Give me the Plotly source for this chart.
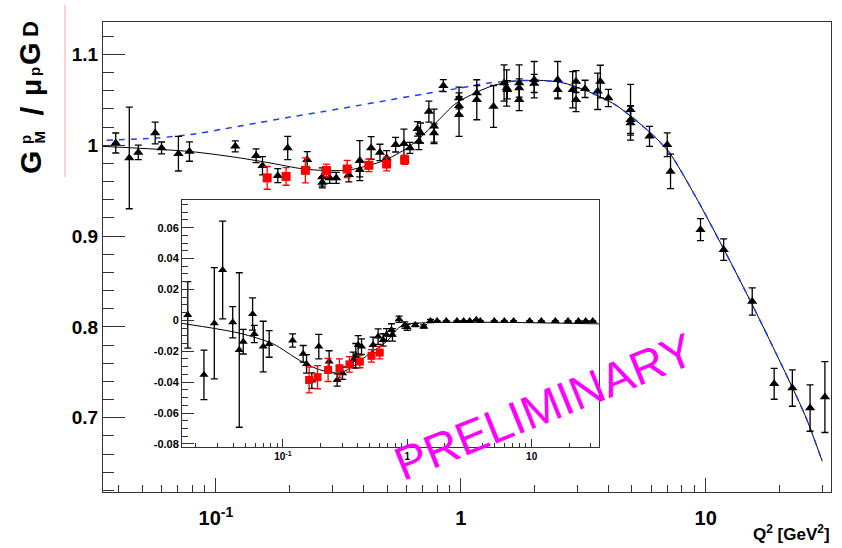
import plotly.graph_objects as go

# ---------------- main panel data ----------------
q2_black = [0.039, 0.0443, 0.0482, 0.0565, 0.060, 0.0703, 0.078, 0.12, 0.146, 0.155,
            0.179, 0.1965, 0.236, 0.272, 0.272, 0.2915, 0.31, 0.349, 0.387, 0.387,
            0.4305, 0.4677, 0.498, 0.542, 0.586, 0.62, 0.674, 0.685, 0.666, 0.741,
            0.778, 0.778, 0.849, 0.984, 0.984, 0.984, 1.163, 1.163, 1.361, 1.503,
            1.54, 1.55, 1.733, 1.733, 1.733, 1.995, 1.995, 2.488, 2.488, 2.864,
            2.957, 2.957, 3.218, 3.625, 3.714, 4.008, 4.936, 4.936, 4.936, 5.9,
            6.97, 7.19, 9.53, 11.85, 15.5, 19.05, 22.6, 26.7, 30.7]
gm_black = [1.0024, 0.986, 0.992, 1.0134, 0.997, 0.9906, 0.993, 0.9987, 0.9884, 0.9774,
            0.9664, 0.9969, 0.984, 0.965, 0.959, 0.964, 0.964, 0.9675, 0.983, 0.973,
            0.997, 0.992, 0.986, 1.0005, 1.0016, 0.997, 1.004, 1.0134, 1.018, 1.037,
            1.0207, 1.0134, 1.0655, 1.052, 1.0435, 1.0336, 1.050, 1.0575, 1.0427, 1.0685,
            1.063, 1.061, 1.0685, 1.050, 1.063, 1.0721, 1.068, 1.0721, 1.061, 1.061,
            1.070, 1.050, 1.062, 1.0593, 1.070, 1.052, 1.039, 1.028, 1.0245, 1.0097,
            1.0005, 0.9711, 0.907, 0.885, 0.828, 0.7373, 0.7326, 0.7106, 0.7227]
err_black = [0.011, 0.056, 0.008, 0.012, 0.0065, 0.019, 0.0107, 0.006, 0.0075, 0.01,
             0.0077, 0.0128, 0.009, 0.01, 0.006, 0.006, 0.006, 0.008, 0.022, 0.008,
             0.0125, 0.009, 0.008, 0.008, 0.016, 0.006, 0.009, 0.011, 0.008, 0.0116,
             0.019, 0.01, 0.0066, 0.012, 0.01, 0.024, 0.022, 0.008, 0.023, 0.02,
             0.02, 0.01, 0.02, 0.012, 0.01, 0.02, 0.01, 0.02, 0.01, 0.02,
             0.012, 0.013, 0.0095, 0.02, 0.018, 0.0095, 0.028, 0.015, 0.019, 0.011,
             0.013, 0.019, 0.0121, 0.0118, 0.015, 0.017, 0.020, 0.0255, 0.039]

q2_red = [0.162, 0.1935, 0.232, 0.2828, 0.3436, 0.4213, 0.498, 0.590]
gm_red = [0.964, 0.9656, 0.9723, 0.9722, 0.9738, 0.9778, 0.9793, 0.984]
err_red = [0.0125, 0.0097, 0.0138, 0.007, 0.0095, 0.007, 0.0075, 0.005]

fit_q2 = [0.0346, 0.0785, 0.118, 0.162, 0.228, 0.293, 0.355, 0.485, 0.605, 0.686,
          0.801, 0.945, 1.106, 1.336, 1.61, 2.07, 2.585, 3.325, 4.27, 4.94,
          5.9, 7.06, 9.05, 12.0, 15.46, 19.94, 25.48, 29.96]
fit_gm = [0.9987, 0.993, 0.987, 0.981, 0.9738, 0.972, 0.973, 0.983, 0.997, 1.009,
          1.026, 1.045, 1.0556, 1.065, 1.070, 1.0714, 1.069, 1.059, 1.0446, 1.032,
          1.0145, 0.993, 0.9445, 0.883, 0.825, 0.764, 0.7025, 0.652]

dash_q2 = [0.0358, 0.0574, 0.0785, 0.1074, 0.147, 0.2014, 0.2757, 0.3777, 0.517, 0.713,
           1.0, 1.3, 1.6, 2.07, 2.585, 3.325, 4.27, 4.94, 5.9, 7.06,
           9.05, 12.0, 15.46, 19.94, 25.48, 29.5]
dash_gm = [1.0053, 1.008, 1.0116, 1.0178, 1.0244, 1.031, 1.037, 1.0435, 1.050, 1.0565,
           1.063, 1.0685, 1.0705, 1.0714, 1.069, 1.059, 1.0446, 1.032, 1.0145, 0.993,
           0.9445, 0.883, 0.825, 0.764, 0.7025, 0.657]

# ---------------- inset data ----------------
in_q2_black = [0.0172, 0.0232, 0.0281, 0.0328, 0.0395, 0.0446, 0.048, 0.0571, 0.0589, 0.0695,
               0.0776, 0.1197, 0.1456, 0.155, 0.171, 0.1945, 0.2355, 0.273, 0.302, 0.367,
               0.386, 0.403, 0.429, 0.531, 0.583, 0.64, 0.681, 0.747, 0.76, 0.859,
               0.955, 1.0, 1.16, 1.357, 1.536, 1.738, 2.06, 2.51, 2.84, 3.18,
               3.59, 3.87, 5.01, 6.03, 7.16, 9.64, 11.97, 15.5, 19.6, 23.8,
               27.2, 31.0]
in_d_black = [0.0035, -0.0353, -0.0019, 0.0326, -0.0012, -0.0192, -0.0138, 0.0041, -0.0088, -0.017,
              -0.0153, -0.0131, -0.0217, -0.0282, -0.039, -0.017, -0.0267, -0.0386, -0.0342, -0.0256,
              -0.023, -0.0159, -0.017, -0.0159, -0.0105, -0.0127, -0.0094, -0.0062, -0.0094, 0.0007,
              -0.003, -0.0045, -0.003, -0.004, -0.0004, -0.0004, -0.0004, -0.0004, -0.0004, -0.0004,
              0.0003, -0.0004, -0.0004, -0.0004, -0.0004, -0.0004, -0.0004, -0.0004, -0.0004, -0.0004,
              -0.0004, -0.0004]
in_err_black = [0.0215, 0.016, 0.036, 0.0316, 0.0101, 0.05, 0.008, 0.0104, 0.0056, 0.0164,
                0.0086, 0.0043, 0.0054, 0.006, 0.005, 0.0079, 0.007, 0.004, 0.004, 0.005,
                0.008, 0.006, 0.005, 0.005, 0.005, 0.004, 0.004, 0.004, 0.004, 0.002,
                0.002, 0.002, 0.001, 0.001, 0.001, 0.0, 0.0, 0.0, 0.0, 0.0,
                0.0, 0.0, 0.0, 0.0, 0.0, 0.0, 0.0, 0.0, 0.0, 0.0,
                0.0, 0.0]

in_q2_red = [0.1626, 0.19, 0.231, 0.285, 0.343, 0.416, 0.516, 0.601]
in_d_red = [-0.0386, -0.0368, -0.0321, -0.031, -0.0285, -0.0267, -0.023, -0.0209]
in_err_red = [0.0084, 0.0075, 0.0075, 0.006, 0.005, 0.004, 0.004, 0.004]

in_fit_q2 = [0.0155, 0.0452, 0.0836, 0.137, 0.198, 0.287, 0.38, 0.5, 0.68, 0.85, 1.0, 34.8]
in_fit_d = [-0.002, -0.0084, -0.0153, -0.026, -0.032, -0.034, -0.029, -0.0213, -0.0138, -0.005, -0.0025, -0.0023]

# ---------------- tick labels ----------------
x_tickvals = [0.1, 1, 10]
x_ticktext = ["10<sup>-1</sup>", "1", "10"]
y_tickvals = [0.7, 0.8, 0.9, 1.0, 1.1]
y_ticktext = ["0.7", "0.8", "0.9", "1", "1.1"]
in_y_tickvals = [-0.08, -0.06, -0.04, -0.02, 0, 0.02, 0.04, 0.06]
in_y_ticktext = ["-0.08", "-0.06", "-0.04", "-0.02", "0", "0.02", "0.04", "0.06"]
x_minor = [m * 10.0 ** e for e in (-2, -1, 0, 1) for m in range(2, 10)]

FONT = "Liberation Sans, Arial, Helvetica, sans-serif"
AX = "#333333"

fig = go.Figure()

def err(arr, color):
    return dict(type="data", array=arr, color=color, thickness=1.3, width=3.5, visible=True)

# main
fig.add_trace(go.Scatter(x=fit_q2, y=fit_gm, mode="lines", line=dict(color="black", width=1, shape="spline", smoothing=0.8),
                         xaxis="x", yaxis="y", showlegend=False, hoverinfo="skip"))
fig.add_trace(go.Scatter(x=dash_q2, y=dash_gm, mode="lines", line=dict(color="#1f3cff", width=1.5, dash="6px,6px", shape="spline", smoothing=0.8),
                         xaxis="x", yaxis="y", showlegend=False, hoverinfo="skip"))
fig.add_trace(go.Scatter(x=q2_black, y=gm_black, mode="markers", error_y=err(err_black, "black"),
                         marker=dict(symbol="triangle-up", size=9, color="black"),
                         xaxis="x", yaxis="y", showlegend=False))
fig.add_trace(go.Scatter(x=q2_red, y=gm_red, mode="markers", error_y=err(err_red, "red"),
                         marker=dict(symbol="square", size=9, color="red"),
                         xaxis="x", yaxis="y", showlegend=False))

# inset
fig.add_trace(go.Scatter(x=in_fit_q2, y=in_fit_d, mode="lines", line=dict(color="black", width=1, shape="spline", smoothing=0.8),
                         xaxis="x2", yaxis="y2", showlegend=False, hoverinfo="skip"))
fig.add_trace(go.Scatter(x=in_q2_black, y=in_d_black, mode="markers", error_y=err(in_err_black, "black"),
                         marker=dict(symbol="triangle-up", size=8, color="black"),
                         xaxis="x2", yaxis="y2", showlegend=False))
fig.add_trace(go.Scatter(x=in_q2_red, y=in_d_red, mode="markers", error_y=err(in_err_red, "red"),
                         marker=dict(symbol="square", size=8, color="red"),
                         xaxis="x2", yaxis="y2", showlegend=False))

L, R, T, B = 103, 11, 22, 56
W, H = 842, 548
pw, ph = W - L - R, H - T - B

def px(x):
    return (x - L) / pw

def py(y):
    return (H - B - y) / ph

common = dict(showline=True, mirror=True, linecolor=AX, linewidth=1, showgrid=False, zeroline=False,
              ticks="inside", tickcolor=AX, tickwidth=1, automargin=False)

fig.update_layout(
    template="none",
    width=W, height=H, margin=dict(l=L, r=R, t=T, b=B, autoexpand=False),
    paper_bgcolor="white", plot_bgcolor="white",
    xaxis=dict(type="log", range=[-1.461, 1.512], anchor="y", domain=[0, 1],
               tickvals=x_tickvals, ticktext=x_ticktext, ticklen=14,
               tickfont=dict(family=FONT, size=20, color="black", weight="bold"),
               ticklabelstandoff=8,
               minor=dict(ticks="inside", ticklen=7, tickvals=x_minor, tickcolor=AX, showgrid=False),
               **common),
    yaxis=dict(range=[0.6182, 1.1356], anchor="x", domain=[0, 1],
               tickvals=y_tickvals, ticktext=y_ticktext, ticklen=22,
               tickfont=dict(family=FONT, size=19, color="black", weight="bold"),
               minor=dict(ticks="inside", ticklen=11, dtick=0.02, tick0=0, tickcolor=AX, showgrid=False),
               **common),
    xaxis2=dict(type="log", range=[-1.811, 1.5416], anchor="y2", domain=[px(182), px(599)],
                tickvals=x_tickvals, ticktext=x_ticktext, ticklen=8,
                tickfont=dict(family=FONT, size=10, color="black", weight="bold"),
                minor=dict(ticks="inside", ticklen=4, tickvals=x_minor, tickcolor=AX, showgrid=False),
                **common),
    yaxis2=dict(range=[-0.082, 0.0779], anchor="x2", domain=[py(447), py(200)],
                tickvals=in_y_tickvals, ticktext=in_y_ticktext, ticklen=12,
                tickfont=dict(family=FONT, size=11, color="black", weight="bold"),
                minor=dict(ticks="inside", ticklen=6, dtick=0.005, tick0=0, tickcolor=AX, showgrid=False),
                **common),
)

# y-axis title pieces (rotated), (text, size, box-centre x, box-centre y) in pixels
title_parts = [
    ("G", 30, 30, 163),
    ("p", 15, 25, 140),
    ("M", 15, 38.5, 137),
    ("/", 32, 31.5, 111),
    ("μ", 28, 32, 88),
    ("p", 15, 34, 72),
    ("G", 29, 30, 54),
    ("D", 22, 31, 29),
]
for txt, sz, x0, y0 in title_parts:
    fig.add_annotation(text="<b>%s</b>" % txt, xref="paper", yref="paper", x=px(x0), y=py(y0),
                       xanchor="center", yanchor="middle", showarrow=False, textangle=-90,
                       font=dict(family=FONT, size=sz, color="black"))

fig.add_shape(type="line", xref="paper", yref="paper", x0=px(65), x1=px(65), y0=py(5), y1=py(177),
              line=dict(color="#f4a6a6", width=1))

fig.add_annotation(text="<b>Q<sup>2</sup> [GeV<sup>2</sup>]</b>", xref="paper", yref="paper",
                   x=px(832), y=py(533), xanchor="right", yanchor="middle", showarrow=False,
                   font=dict(family=FONT, size=17, color="black"))

fig.add_annotation(text="PRELIMINARY", xref="paper", yref="paper", x=px(544), y=py(406),
                   xanchor="center", yanchor="middle", showarrow=False, textangle=-22,
                   font=dict(family=FONT, size=47, color="#ff00ff"))

fig.write_html("out.html", config={"displayModeBar": False},
               post_script="document.body.style.margin='0';document.body.style.overflow='hidden';")
